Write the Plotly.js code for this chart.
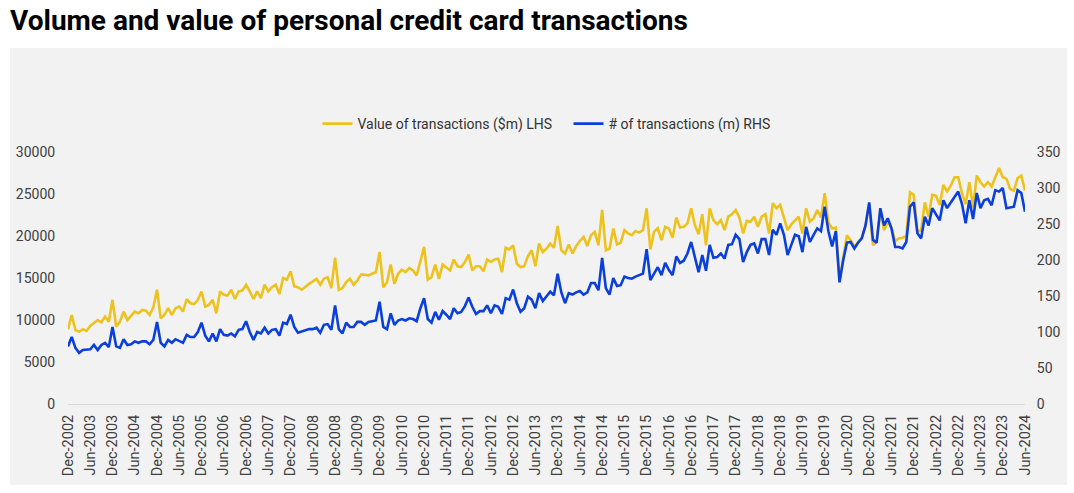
<!DOCTYPE html>
<html>
<head>
<meta charset="utf-8">
<script src="https://cdn.plot.ly/plotly-3.0.1.min.js"></script>
<style>
  html, body { margin: 0; padding: 0; background: #ffffff; }
  #panel { position: absolute; left: 10px; top: 48px; width: 1057px; height: 437px; background: #f2f2f2; }
  #chart { position: absolute; left: 0; top: 0; width: 1074px; height: 493px; }
</style>
</head>
<body>
<div id="panel"></div>
<div id="chart"></div>
<script>
// Monthly series, Dec-2002 .. Jun-2024 (one line per year block)
const valueSeries = [ // Value of transactions ($m)
  8900, 10600, 8800, 8600, 8900, 8700, 9300, 9600, 10000, 9700, 10400, 9800, 12400,
  9200, 9800, 11000, 10000, 10500, 11000, 10800, 11200, 11100, 10600, 11500, 13600,
  10200, 10600, 11400, 10600, 11400, 11600, 11000, 12500, 12000, 11900, 12400, 13400,
  11600, 11800, 12400, 10800, 13400, 13000, 12900, 13600, 12500, 13400, 13500, 14200,
  13400, 12500, 13400, 12600, 14200, 13400, 13900, 14200, 13100, 15000, 14800, 15800,
  14000, 13900, 13600, 14000, 14300, 14600, 14900, 14200, 14900, 15100, 13800, 17400,
  13600, 13800, 14500, 14900, 14200, 14700, 15400, 15400, 15300, 15500, 15700, 18100,
  13900, 14500, 16600, 14300, 15500, 16000, 15700, 16200, 15900, 15300, 16900, 18700,
  14800, 15100, 16600, 14900, 16600, 16300, 15900, 17200, 16400, 16300, 16900, 17800,
  15900, 16400, 16400, 15800, 17200, 16900, 17200, 17300, 15700, 18600, 18400, 18900,
  16700, 16300, 16400, 17600, 18300, 16400, 19100, 18100, 18500, 19100, 18600, 21200,
  18300, 17900, 19000, 17900, 18800, 19400, 19900, 18800, 20100, 20500, 18900, 23100,
  18300, 18500, 20900, 19000, 19200, 20700, 20300, 20100, 20600, 20400, 20700, 23300,
  18400, 20500, 20900, 19500, 21100, 20900, 19800, 22200, 21000, 21100, 21500, 23300,
  21300, 20200, 22600, 18900, 23300, 21900, 21400, 21900, 20700, 22300, 22600, 23100,
  22200, 20300, 21800, 21700, 22300, 21100, 22300, 22600, 20300, 23900, 23300, 23700,
  22200, 20700, 21400, 21900, 22300, 20300, 23300, 21700, 22100, 23100, 22200, 25100,
  21600, 20900, 21000, 14700, 17300, 20100, 19500, 18700, 19300, 19800, 21200, 23800,
  18900, 19300, 22900, 20700, 21700, 21000, 19400, 19700, 19800, 20000, 25200, 24900,
  20500, 20700, 24000, 22300, 24900, 24800, 23700, 26100, 25300, 26000, 27000, 27000,
  25100, 23800, 26400, 23400, 27200, 26400, 25900, 26400, 25900, 27000, 28100, 27000,
  26800, 25600, 25400, 26900, 27200, 25400
];
const countSeries = [ // # of transactions (m)
  80, 93, 78, 71, 75, 76, 76, 82, 75, 82, 85, 79, 107,
  80, 78, 90, 82, 83, 87, 85, 87, 87, 83, 89, 114,
  85, 80, 89, 85, 90, 88, 85, 96, 93, 93, 100, 113,
  95, 87, 98, 87, 104, 96, 95, 98, 94, 103, 104, 115,
  100, 89, 100, 98, 106, 98, 103, 104, 95, 113, 111, 124,
  107, 99, 101, 102, 104, 104, 106, 99, 110, 111, 103, 137,
  104, 98, 113, 107, 107, 114, 114, 110, 114, 115, 116, 142,
  107, 104, 126, 110, 116, 118, 116, 119, 118, 115, 133, 147,
  118, 113, 128, 117, 129, 124, 118, 133, 126, 128, 136, 148,
  135, 125, 129, 129, 137, 126, 137, 135, 125, 147, 145, 159,
  140, 128, 133, 149, 145, 133, 154, 143, 149, 156, 151, 181,
  155, 140, 154, 152, 155, 157, 152, 155, 168, 168, 158, 203,
  161, 152, 175, 164, 165, 177, 175, 174, 177, 179, 181, 215,
  172, 181, 190, 179, 196, 186, 179, 205, 196, 199, 209, 225,
  205, 183, 207, 185, 221, 203, 204, 209, 202, 221, 222, 235,
  229, 197, 211, 221, 223, 209, 229, 229, 207, 242, 235, 251,
  235, 207, 221, 235, 233, 211, 246, 225, 235, 244, 240, 274,
  240, 219, 240, 169, 200, 224, 225, 216, 224, 230, 248, 280,
  228, 224, 272, 248, 258, 244, 218, 218, 216, 225, 274, 280,
  237, 230, 260, 248, 272, 263, 255, 283, 272, 280, 288, 295,
  278, 251, 283, 257, 293, 272, 283, 285, 276, 297, 295, 300,
  272, 273, 274, 297, 293, 267
];
const tickLabels = [
  'Dec-2002','Jun-2003','Dec-2003','Jun-2004','Dec-2004','Jun-2005','Dec-2005','Jun-2006',
  'Dec-2006','Jun-2007','Dec-2007','Jun-2008','Dec-2008','Jun-2009','Dec-2009','Jun-2010',
  'Dec-2010','Jun-2011','Dec-2011','Jun-2012','Dec-2012','Jun-2013','Dec-2013','Jun-2014',
  'Dec-2014','Jun-2015','Dec-2015','Jun-2016','Dec-2016','Jun-2017','Dec-2017','Jun-2018',
  'Dec-2018','Jun-2019','Dec-2019','Jun-2020','Dec-2020','Jun-2021','Dec-2021','Jun-2022',
  'Dec-2022','Jun-2023','Dec-2023','Jun-2024'
];
const seriesNames = ['Value of transactions ($m) LHS', '# of transactions (m) RHS'];

// Month categories starting Dec-2002
const monthNames = ['Jan','Feb','Mar','Apr','May','Jun','Jul','Aug','Sep','Oct','Nov','Dec'];
const categories = [];
for (let k = 0; k < valueSeries.length; k++) {
  const m = (11 + k) % 12;
  const y = 2002 + Math.floor((11 + k) / 12);
  categories.push(monthNames[m] + '-' + y);
}

const fam = 'Roboto, Arial, sans-serif';
const xTickFont = { family: fam, size: 14.5, color: '#404040' };
const yTickFont = { family: fam, size: 14, color: '#404040' };

const traces = [
  { x: categories, y: valueSeries, name: seriesNames[0], type: 'scatter', mode: 'lines',
    line: { color: '#EEC21D', width: 2.6 }, yaxis: 'y' },
  { x: categories, y: countSeries, name: seriesNames[1], type: 'scatter', mode: 'lines',
    line: { color: '#0B3FDA', width: 2.6 }, yaxis: 'y2' }
];

const layout = {
  width: 1074, height: 493,
  paper_bgcolor: 'rgba(0,0,0,0)', plot_bgcolor: 'rgba(0,0,0,0)',
  margin: { l: 68, r: 49, t: 152, b: 89, pad: 0 },
  title: { text: 'Volume and value of personal credit card transactions',
    xref: 'container', yref: 'container', x: 10 / 1074, xanchor: 'left',
    y: 1 - 20 / 493, yanchor: 'middle',
    font: { family: fam, size: 28, weight: 700, color: '#000000' } },
  showlegend: true,
  legend: { orientation: 'h', x: 0.5 + 22 / 957, xanchor: 'center', y: 1 + 28 / 252, yanchor: 'middle',
    font: { family: fam, size: 14, color: '#333333' },
    bgcolor: 'rgba(0,0,0,0)', itemwidth: 30, entrywidth: 206, tracegroupgap: 0 },
  xaxis: { type: 'category', range: [0, categories.length - 1],
    tickmode: 'array', tickvals: tickLabels, ticktext: tickLabels,
    tickangle: -90, tickfont: xTickFont, showgrid: false, zeroline: false,
    showline: true, linecolor: '#d9d9d9', linewidth: 1,
    ticks: 'outside', ticklen: 4, tickcolor: 'rgba(0,0,0,0)', fixedrange: true },
  yaxis: { range: [0, 30000], dtick: 5000, tick0: 0, tickformat: 'd', tickfont: yTickFont,
    showgrid: false, zeroline: false, showline: false,
    ticks: 'outside', ticklen: 9, tickcolor: 'rgba(0,0,0,0)', fixedrange: true },
  yaxis2: { range: [0, 350], dtick: 50, tick0: 0, tickformat: 'd', overlaying: 'y', side: 'right',
    tickfont: yTickFont, showgrid: false, zeroline: false, showline: false,
    ticks: 'outside', ticklen: 8, tickcolor: 'rgba(0,0,0,0)', fixedrange: true }
};

Plotly.newPlot('chart', traces, layout, { displayModeBar: false, staticPlot: true });
</script>
</body>
</html>
